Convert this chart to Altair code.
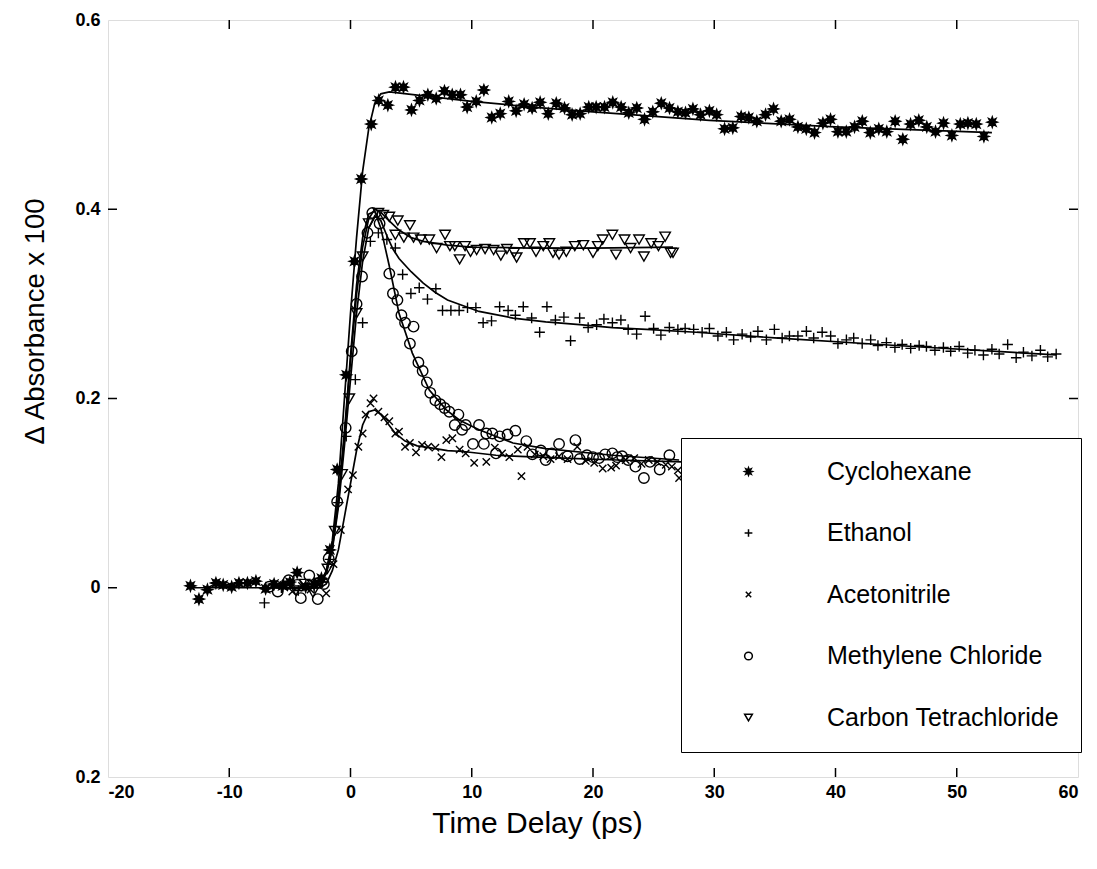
import math
import altair as alt
import pandas as pd

# ---------------- data ----------------
solvents = ["Cyclohexane", "Ethanol", "Acetonitrile", "Methylene Chloride", "Carbon Tetrachloride"]

cyc_x = [-13.2, -12.5, -11.8, -11.1, -10.5, -9.8, -9.2, -8.5, -7.8, -7.0,
         -6.3, -5.6, -5.0, -4.4, -3.7, -3.0, -2.4, -1.7, -1.1, -0.35,
         0.33, 0.88, 1.71, 2.33, 3.08, 3.71, 4.37, 5.03, 5.69, 6.38,
         7.07, 7.75, 8.39, 9.07, 9.62, 10.37, 11.0, 11.65, 12.35, 13.05,
         13.66, 14.32, 14.98, 15.64, 16.31, 16.97, 17.65, 18.28, 18.94, 19.65,
         20.26, 20.95, 21.63, 22.32, 22.95, 23.61, 24.25, 24.93, 25.63, 26.31,
         27.0, 27.63, 28.24, 28.87, 29.6, 30.2, 30.85, 31.53, 32.22, 32.85,
         33.51, 34.23, 34.89, 35.52, 36.21, 36.9, 37.59, 38.27, 38.96, 39.59,
         40.2, 40.89, 41.57, 42.21, 42.87, 43.57, 44.23, 44.92, 45.55, 46.19,
         46.87, 47.53, 48.25, 48.91, 49.6, 50.29, 50.92, 51.61, 52.24, 52.93]
cyc_y = [0.002, -0.012, -0.002, 0.005, 0.003, 0.001, 0.005, 0.005, 0.007, -0.001,
         0.004, 0.002, 0.006, 0.016, 0.001, 0.004, 0.010, 0.040, 0.125, 0.225,
         0.345, 0.432, 0.490, 0.515, 0.510, 0.529, 0.529, 0.505, 0.515, 0.521,
         0.517, 0.525, 0.521, 0.521, 0.508, 0.514, 0.526, 0.497, 0.501, 0.514,
         0.504, 0.511, 0.507, 0.513, 0.501, 0.512, 0.507, 0.500, 0.501, 0.508,
         0.508, 0.508, 0.513, 0.508, 0.502, 0.507, 0.495, 0.503, 0.512, 0.507,
         0.503, 0.502, 0.506, 0.500, 0.504, 0.500, 0.485, 0.486, 0.498, 0.497,
         0.493, 0.500, 0.506, 0.493, 0.495, 0.487, 0.485, 0.481, 0.491, 0.495,
         0.482, 0.482, 0.487, 0.493, 0.481, 0.485, 0.482, 0.493, 0.474, 0.490,
         0.494, 0.487, 0.482, 0.491, 0.478, 0.490, 0.491, 0.490, 0.477, 0.492]

eth_x = [-7.1, -6.4, -5.7, -5.0, -4.3, -3.7, -3.0, -2.3, -1.7, -1.0,
         -0.35, 0.4, 1.0, 1.64, 2.3, 3.0, 3.7, 4.3, 4.98, 5.67,
         6.35, 7.04, 7.59, 8.28, 8.96, 9.65, 10.34, 10.94, 11.63, 12.3,
         13.0, 13.6, 14.25, 14.94, 15.6, 16.2, 16.9, 17.6, 18.15, 18.9,
         19.6, 20.3, 20.9, 21.6, 22.3, 22.9, 23.6, 24.3, 25.0, 25.6,
         26.3, 27.0, 27.6, 28.3, 29.0, 29.6, 30.3, 31.0, 31.6, 32.3,
         33.0, 33.6, 34.3, 34.96, 35.6, 36.2, 36.9, 37.6, 38.2, 38.9,
         39.6, 40.2, 40.9, 41.5, 42.2, 42.9, 43.5, 44.2, 44.9, 45.5,
         46.2, 46.9, 47.5, 48.2, 48.9, 49.5, 50.2, 50.9, 51.5, 52.2,
         52.9, 53.5, 54.2, 54.9, 55.5, 56.2, 56.9, 57.5, 58.2]
eth_y = [-0.016, 0.003, 0.000, 0.004, -0.003, 0.002, 0.000, 0.006, 0.030, 0.090,
         0.160, 0.220, 0.280, 0.366, 0.375, 0.368, 0.359, 0.331, 0.311, 0.317,
         0.305, 0.316, 0.293, 0.293, 0.293, 0.296, 0.296, 0.280, 0.282, 0.297,
         0.293, 0.288, 0.297, 0.285, 0.270, 0.297, 0.283, 0.286, 0.261, 0.285,
         0.275, 0.278, 0.284, 0.280, 0.283, 0.273, 0.268, 0.287, 0.274, 0.267,
         0.275, 0.273, 0.274, 0.273, 0.270, 0.274, 0.266, 0.270, 0.262, 0.268,
         0.265, 0.271, 0.262, 0.273, 0.264, 0.266, 0.266, 0.271, 0.264, 0.270,
         0.266, 0.258, 0.262, 0.264, 0.258, 0.262, 0.256, 0.259, 0.254, 0.257,
         0.253, 0.256, 0.255, 0.251, 0.254, 0.250, 0.255, 0.248, 0.251, 0.246,
         0.252, 0.247, 0.257, 0.243, 0.249, 0.245, 0.251, 0.244, 0.247]

ace_x = [-5.5, -4.8, -4.0, -3.3, -2.6, -2.0, -1.4, -0.8, -0.2, 0.2,
         0.65, 1.0, 1.25, 1.65, 1.9, 2.3, 2.8, 3.2, 3.7, 4.0,
         4.5, 4.9, 5.4, 5.9, 6.4, 7.0, 7.5, 7.9, 8.4, 9.0,
         9.5, 10.2, 11.2, 11.9, 12.5, 13.1, 13.8, 14.1, 14.6, 15.2,
         15.9, 16.5, 17.2, 17.9, 18.7, 19.4, 20.1, 20.8, 21.5, 21.9,
         22.7, 23.4, 24.0, 24.6, 25.3, 26.0, 26.5, 27.0, 27.1, 27.6]
ace_y = [0.003, -0.004, 0.002, -0.002, 0.004, -0.006, 0.025, 0.061, 0.104, 0.119,
         0.149, 0.163, 0.183, 0.195, 0.200, 0.186, 0.180, 0.176, 0.163, 0.165,
         0.149, 0.153, 0.143, 0.151, 0.149, 0.148, 0.138, 0.156, 0.158, 0.146,
         0.142, 0.132, 0.133, 0.148, 0.142, 0.138, 0.146, 0.118, 0.149, 0.141,
         0.139, 0.136, 0.139, 0.136, 0.149, 0.134, 0.132, 0.126, 0.127, 0.129,
         0.135, 0.137, 0.131, 0.135, 0.133, 0.130, 0.128, 0.124, 0.116, 0.135]

mec_x = [-6.7, -6.0, -5.1, -4.4, -4.1, -3.4, -2.7, -2.2, -1.8, -1.1,
         -0.4, 0.1, 0.5, 0.95, 1.4, 1.8, 2.4, 3.2, 3.5, 3.87,
         4.2, 4.5, 4.9, 5.2, 5.6, 5.95, 6.3, 6.58, 7.0, 7.4,
         7.76, 8.15, 8.6, 8.9, 9.2, 9.5, 10.1, 10.6, 11.0, 11.2,
         11.7, 12.0, 12.3, 12.95, 13.6, 14.5, 15.0, 15.7, 16.1, 16.6,
         17.2, 17.9, 18.55, 18.9, 19.5, 20.0, 20.5, 21.0, 21.6, 22.0,
         22.4, 22.9, 23.5, 24.2, 24.7, 25.5, 26.3]
mec_y = [0.001, -0.004, 0.008, 0.003, -0.011, 0.013, -0.012, 0.004, 0.031, 0.091,
         0.169, 0.250, 0.300, 0.329, 0.375, 0.396, 0.385, 0.332, 0.311, 0.304,
         0.288, 0.280, 0.258, 0.276, 0.238, 0.229, 0.217, 0.206, 0.198, 0.194,
         0.190, 0.186, 0.172, 0.183, 0.167, 0.172, 0.152, 0.172, 0.152, 0.163,
         0.163, 0.142, 0.160, 0.162, 0.166, 0.155, 0.141, 0.145, 0.135, 0.142,
         0.152, 0.139, 0.156, 0.136, 0.140, 0.138, 0.137, 0.141, 0.142, 0.138,
         0.139, 0.135, 0.128, 0.116, 0.133, 0.125, 0.140]

ccl_x = [-5.2, -4.5, -3.8, -3.1, -2.5, -1.9, -1.3, -0.7, -0.1, 0.5,
         1.0, 1.5, 2.3, 2.7, 3.2, 3.7, 3.9, 4.4, 4.9, 5.2,
         5.8, 6.5, 7.1, 7.8, 8.2, 8.6, 9.0, 9.45, 9.9, 10.4,
         11.1, 11.8, 12.4, 12.9, 13.5, 13.7, 14.3, 14.8, 15.3, 15.9,
         16.4, 16.7, 17.2, 17.8, 18.5, 19.2, 20.0, 20.4, 20.8, 21.6,
         21.9, 22.6, 23.1, 23.8, 24.2, 24.8, 25.4, 25.95, 26.4, 26.6]
ccl_y = [0.002, -0.003, 0.004, -0.005, 0.005, 0.020, 0.060, 0.120, 0.200, 0.290,
         0.350, 0.385, 0.396, 0.394, 0.392, 0.373, 0.388, 0.370, 0.383, 0.370,
         0.368, 0.368, 0.359, 0.373, 0.361, 0.361, 0.347, 0.361, 0.355, 0.357,
         0.358, 0.357, 0.351, 0.358, 0.354, 0.349, 0.364, 0.364, 0.355, 0.361,
         0.364, 0.354, 0.352, 0.355, 0.361, 0.362, 0.354, 0.361, 0.368, 0.373,
         0.352, 0.368, 0.359, 0.368, 0.350, 0.364, 0.361, 0.371, 0.354, 0.354]

# fitted curves
cyc_fit_x = [-13.2, -3.0, -2.5, -2.0, -1.5, -1.0, -0.5, 0.0, 0.5, 1.0, 1.5, 2.0, 2.5, 3.2, 10, 15, 20, 29.6, 40, 52.9]
cyc_fit_y = [0, 0, 0.004, 0.017, 0.05, 0.11, 0.2, 0.29, 0.37, 0.44, 0.485, 0.512, 0.522, 0.524, 0.514, 0.508, 0.503, 0.494, 0.487, 0.481]
eth_fit_x = [-7.1, -3.0, -2.5, -2.0, -1.5, -1.0, -0.5, 0.0, 0.5, 1.0, 1.5, 2.0, 2.5, 3.0, 3.5, 4.0, 5.0, 6.0, 7.0, 8.0,
             10.6, 13.4, 16.1, 18.9, 21.6, 24.4, 28.5, 35, 45, 58.2]
eth_fit_y = [0, 0, 0.004, 0.015, 0.04, 0.085, 0.15, 0.22, 0.29, 0.345, 0.38, 0.393, 0.388, 0.372, 0.358, 0.348, 0.334, 0.322, 0.312, 0.304,
             0.292, 0.285, 0.281, 0.278, 0.275, 0.273, 0.270, 0.264, 0.256, 0.246]
ace_fit_x = [-5.5, -2.5, -2.0, -1.5, -1.0, -0.5, 0, 0.5, 1.0, 1.5, 2.0, 2.5, 3.0, 3.7, 4.5, 5.5, 6.5, 8, 9.3, 12, 17.5, 22, 27.3]
ace_fit_y = [0, 0, 0.004, 0.018, 0.04, 0.075, 0.11, 0.145, 0.172, 0.186, 0.188, 0.183, 0.175, 0.163, 0.155, 0.150, 0.148, 0.145, 0.144, 0.140, 0.137, 0.135, 0.133]
mec_fit_x = [-6.7, -3.0, -2.5, -2.0, -1.5, -1.0, -0.5, 0, 0.5, 1.0, 1.5, 2.0, 2.5, 3.2, 4.0, 5.1, 6.5, 7.9, 9.0, 10.6, 13.4, 16.1, 21.6, 27.1]
mec_fit_y = [0, 0, 0.004, 0.018, 0.045, 0.095, 0.165, 0.245, 0.32, 0.37, 0.395, 0.398, 0.38, 0.34, 0.29, 0.248, 0.209, 0.188, 0.177, 0.167, 0.153, 0.147, 0.140, 0.135]
ccl_fit_x = [-5.2, -3.0, -2.5, -2.0, -1.5, -1.0, -0.5, 0, 0.5, 1.0, 1.5, 2.0, 2.5, 3.0, 4.0, 5.0, 6.0, 8.0, 10, 15, 20, 26.6]
ccl_fit_y = [0, 0, 0.004, 0.016, 0.042, 0.09, 0.16, 0.24, 0.31, 0.36, 0.39, 0.40, 0.397, 0.39, 0.378, 0.37, 0.366, 0.362, 0.36, 0.359, 0.359, 0.36]

x_ticks = [-10, 0, 10, 20, 30, 40, 50]
y_ticks = [0, 0.2, 0.4]

# ---------------- tables ----------------
series = {
    "Cyclohexane": (cyc_x, cyc_y, cyc_fit_x, cyc_fit_y),
    "Ethanol": (eth_x, eth_y, eth_fit_x, eth_fit_y),
    "Acetonitrile": (ace_x, ace_y, ace_fit_x, ace_fit_y),
    "Methylene Chloride": (mec_x, mec_y, mec_fit_x, mec_fit_y),
    "Carbon Tetrachloride": (ccl_x, ccl_y, ccl_fit_x, ccl_fit_y),
}
pts, fits = [], []
for name, (px, py, fx, fy) in series.items():
    assert len(px) == len(py) and len(fx) == len(fy)
    pts += [{"t": a, "a": b, "solvent": name} for a, b in zip(px, py)]
    fits += [{"t": a, "a": b, "solvent": name, "o": i} for i, (a, b) in enumerate(zip(fx, fy))]
pts = pd.DataFrame(pts)
fits = pd.DataFrame(fits)

# ---------------- symbols ----------------
star = "M" + "L".join(
    f"{(1.0 if k % 2 == 0 else 0.5) * math.cos(k * math.pi / 8):.3f},{(1.0 if k % 2 == 0 else 0.5) * math.sin(k * math.pi / 8):.3f}"
    for k in range(16)) + "Z"
plus = "M-1,0L1,0M0,-1L0,1"
cross = "M-0.7,-0.7L0.7,0.7M-0.7,0.7L0.7,-0.7"
shapes = [star, plus, cross, "circle", "triangle-down"]
fills = ["black", "transparent", "transparent", "transparent", "transparent"]
strokes = ["black"] * 5

W, H = 970, 757
FONT = "Liberation Sans"

xs = alt.Scale(domain=[-20, 60], nice=False)
ys = alt.Scale(domain=[-0.2, 0.6], nice=False)

x_axis = alt.Axis(values=[-20, -10, 0, 10, 20, 30, 40, 50, 60], labelExpr="'' + datum.value",
                  title="Time Delay (ps)", grid=False, ticks=False, domain=False,
                  labelFontSize=18, labelFontWeight="bold", labelPadding=6, labelFont=FONT,
                  titleFontSize=30, titleFontWeight="normal", titleFont=FONT,
                  titleX=429, titleY=46, titleBaseline="middle", titleAnchor="middle")
y_axis = alt.Axis(values=[-0.2, 0, 0.2, 0.4, 0.6],
                  labelExpr="datum.value == 0 ? '0' : format(abs(datum.value), '.1f')",
                  title="\u0394 Absorbance x 100", grid=False, ticks=False, domain=False,
                  labelFontSize=18, labelFontWeight="bold", labelPadding=8, labelFont=FONT,
                  titleFontSize=27.5, titleFontWeight="normal", titleFont=FONT,
                  titleX=-73, titleY=301, titleBaseline="middle", titleAnchor="middle")

legend = alt.Legend(title=None, orient="none", legendX=573, legendY=418,
                    fillColor="white", strokeColor="black", padding=21,
                    symbolOffset=34, labelOffset=66, rowPadding=35.5,
                    labelFontSize=25, labelFont=FONT, labelLimit=400,
                    symbolSize=60, symbolStrokeWidth=1.5)

points = alt.Chart(pts).mark_point(size=110, strokeWidth=1.4, opacity=1).encode(
    x=alt.X("t:Q", scale=xs, axis=x_axis),
    y=alt.Y("a:Q", scale=ys, axis=y_axis),
    shape=alt.Shape("solvent:N", scale=alt.Scale(domain=solvents, range=shapes), legend=legend, sort=solvents),
    fill=alt.Fill("solvent:N", scale=alt.Scale(domain=solvents, range=fills), legend=legend, sort=solvents),
    stroke=alt.Stroke("solvent:N", scale=alt.Scale(domain=solvents, range=strokes), legend=legend, sort=solvents),
)

lines = alt.Chart(fits).mark_line(color="black", strokeWidth=1.7).encode(
    x=alt.X("t:Q", scale=xs),
    y=alt.Y("a:Q", scale=ys),
    detail="solvent:N",
    order="o:Q",
)

xt = pd.DataFrame({"t": x_ticks})
yt = pd.DataFrame({"a": y_ticks})
tb = alt.Chart(xt).mark_rule(color="black", strokeWidth=1.5).encode(x=alt.X("t:Q", scale=xs), y=alt.value(H), y2=alt.value(H - 9))
tt = alt.Chart(xt).mark_rule(color="black", strokeWidth=1.5).encode(x=alt.X("t:Q", scale=xs), y=alt.value(0), y2=alt.value(9))
tl = alt.Chart(yt).mark_rule(color="black", strokeWidth=1.5).encode(y=alt.Y("a:Q", scale=ys), x=alt.value(0), x2=alt.value(9))
tr = alt.Chart(yt).mark_rule(color="black", strokeWidth=1.5).encode(y=alt.Y("a:Q", scale=ys), x=alt.value(W), x2=alt.value(W - 9))

chart = alt.layer(lines, points, tb, tt, tl, tr).properties(
    width=W, height=H,
    autosize=alt.AutoSizeParams(type="none"),
    padding={"left": 100, "top": 12, "right": 10, "bottom": 80},
).configure_view(stroke="black", strokeWidth=2).configure_legend(strokeWidth=1.5).configure(background="white")

chart.save("out.html", embed_options={"renderer": "svg", "actions": False})
